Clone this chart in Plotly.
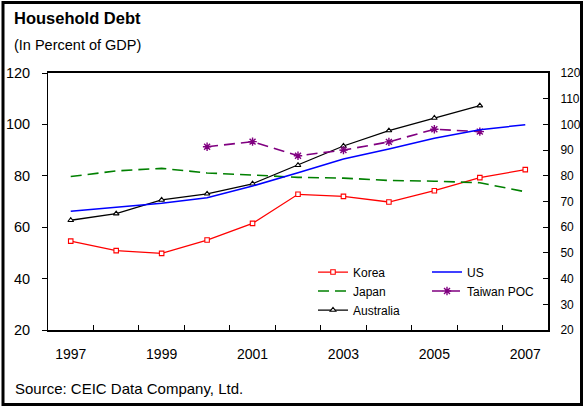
import plotly.graph_objects as go

years = [1997, 1998, 1999, 2000, 2001, 2002, 2003, 2004, 2005, 2006, 2007]
korea = [54.6, 50.9, 49.8, 55.0, 61.5, 72.8, 72.0, 69.8, 74.2, 79.3, 82.4]
us = [66.2, 67.7, 69.3, 71.5, 76.0, 81.2, 86.5, 90.4, 94.6, 97.9, 99.9]
japan = [79.7, 81.9, 82.9, 81.1, 80.3, 79.4, 79.1, 78.2, 77.9, 77.3, 73.8]
taiwan_years = [2000, 2001, 2002, 2003, 2004, 2005, 2006]
taiwan = [91.3, 93.3, 87.8, 90.0, 93.2, 98.1, 97.2]
australia_years = [1997, 1998, 1999, 2000, 2001, 2002, 2003, 2004, 2005, 2006]
australia = [62.7, 65.3, 70.6, 73.0, 76.9, 84.1, 91.6, 97.6, 102.5, 107.3]

x_labels = [1997, 1999, 2001, 2003, 2005, 2007]
left_ticks = [20, 40, 60, 80, 100, 120]
right_ticks = [20, 30, 40, 50, 60, 70, 80, 90, 100, 110, 120]

FONT = "Arial, Liberation Sans, sans-serif"

fig = go.Figure()
fig.add_trace(go.Scatter(x=years, y=korea, name="Korea", mode="lines+markers",
                         line=dict(color="#FF0000", width=1.3),
                         marker=dict(symbol="square", size=4.5, color="white",
                                     line=dict(color="#FF0000", width=1.1)),
                         legend="legend"))
fig.add_trace(go.Scatter(x=years, y=japan, name="Japan", mode="lines",
                         line=dict(color="#008000", width=1.6, dash="11px,6px"),
                         legend="legend"))
fig.add_trace(go.Scatter(x=australia_years, y=australia, name="Australia", mode="lines+markers",
                         line=dict(color="#000000", width=1.3),
                         marker=dict(symbol="triangle-up", size=5, color="white",
                                     line=dict(color="#000000", width=1.1)),
                         legend="legend"))
fig.add_trace(go.Scatter(x=years, y=us, name="US", mode="lines",
                         line=dict(color="#0000FF", width=1.5),
                         yaxis="y2", legend="legend2"))
fig.add_trace(go.Scatter(x=taiwan_years, y=taiwan, name="Taiwan POC", mode="lines+markers",
                         line=dict(color="#800080", width=1.6, dash="11px,6px"),
                         marker=dict(symbol="asterisk-open", size=7,
                                     line=dict(color="#800080", width=1.4)),
                         legend="legend2"))

legend_common = dict(font=dict(family=FONT, size=12, color="black"),
                     bgcolor="rgba(0,0,0,0)", borderwidth=0,
                     xanchor="left", yanchor="top", tracegroupgap=0,
                     itemwidth=30, traceorder="normal")

fig.update_layout(
    width=584, height=407,
    margin=dict(l=48, r=36, t=73, b=77, pad=0, autoexpand=False),
    paper_bgcolor="white", plot_bgcolor="white",
    font=dict(family=FONT, size=14, color="black"),
    showlegend=True,
    hovermode=False,
    legend=dict(x=0.53, y=0.282, **legend_common),
    legend2=dict(x=0.758, y=0.282, **legend_common),
    xaxis=dict(range=[1996.5, 2007.5], tickvals=x_labels, ticktext=[str(v) for v in x_labels],
               ticks="", showgrid=False, zeroline=False, automargin=False,
               showline=True, linecolor="black", linewidth=2, mirror=True,
               tickfont=dict(size=14), ticklabelstandoff=10,
               minor=dict(tickvals=[y + 0.5 for y in years[:-1]], ticks="inside",
                          ticklen=5, tickcolor="black", tickwidth=1, showgrid=False)),
    yaxis=dict(range=[20, 120], tickvals=left_ticks, ticks="outside", ticklen=5,
               tickcolor="black", showgrid=False, zeroline=False, automargin=False,
               showline=True, linecolor="black", linewidth=1,
               tickfont=dict(size=14.5), ticklabelstandoff=9),
    yaxis2=dict(range=[20, 120], tickvals=right_ticks, ticks="inside", ticklen=5,
                tickcolor="black", overlaying="y", side="right", showgrid=False,
                zeroline=False, showline=True, linecolor="black", linewidth=2,
                automargin=False, tickfont=dict(size=12), ticklabelstandoff=8),
    annotations=[
        dict(text="<b>Household Debt</b>", x=-0.072, y=1.214, xref="paper", yref="paper",
             xanchor="left", yanchor="middle", showarrow=False,
             font=dict(family=FONT, size=16.5, color="black")),
        dict(text="(In Percent of GDP)", x=-0.072, y=1.109, xref="paper", yref="paper",
             xanchor="left", yanchor="middle", showarrow=False,
             font=dict(family=FONT, size=14.5, color="black")),
        dict(text="Source: CEIC Data Company, Ltd.", x=(13 - 48) / 500, y=-0.2257,
             xref="paper", yref="paper",
             xanchor="left", yanchor="middle", showarrow=False,
             font=dict(family=FONT, size=15, color="black")),
    ],
    shapes=[
        dict(type="rect", xref="paper", yref="paper",
             x0=(3 - 48) / 500, x1=(581.5 - 48) / 500,
             y0=(330 - 404.5) / 257, y1=(330 - 2.5) / 257,
             line=dict(color="black", width=3), fillcolor="rgba(0,0,0,0)", layer="below"),
    ],
)

fig.write_html("out.html", config={"displayModeBar": False},
               post_script="document.body.style.margin='0';document.body.style.padding='0';")
